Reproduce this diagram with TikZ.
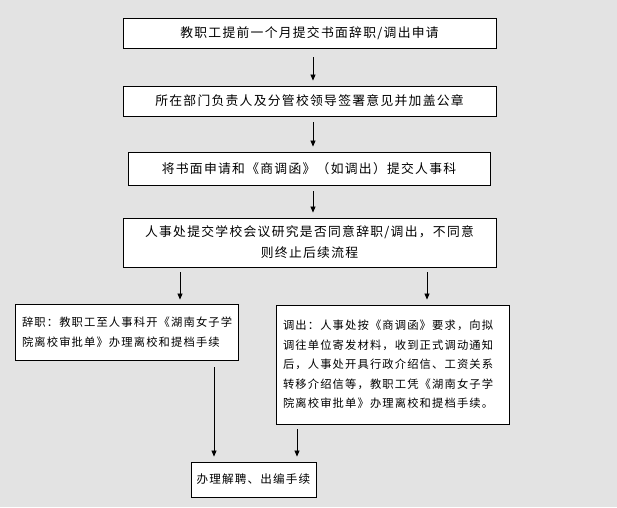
\documentclass[tikz,border=0pt]{standalone}
\usepackage{fontspec}
\setmainfont{Noto Sans CJK SC}[LetterSpace=10]
\usetikzlibrary{arrows.meta}
\begin{document}
\begin{tikzpicture}[x=1pt,y=-1pt,
  box/.style={draw=black,fill=white,line width=0.9pt,minimum height=30,inner sep=0pt,font=\fontsize{12.8}{19.5}\selectfont},
  tbox/.style={box,inner xsep=7pt,inner ysep=0pt,align=left,font=\fontsize{11.3}{19.5}\selectfont},
  arr/.style={-{Triangle[length=6pt,width=5pt]},line width=0.7pt}]
\fill[gray!22] (0,0) rectangle (617,507);
\node[box,minimum width=373] (b1) at (309.5,33) {教职工提前一个月提交书面辞职/调出申请};
\node[box,minimum width=373] (b2) at (309.5,101) {所在部门负责人及分管校领导签署意见并加盖公章};
\node[box,minimum width=362,minimum height=33] (b3) at (309,168.5) {将书面申请和《商调函》（如调出）提交人事科};
\node[box,minimum width=373,minimum height=49,align=center,font=\fontsize{12.8}{21}\selectfont] (b4) at (309.5,242.5) {人事处提交学校会议研究是否同意辞职/调出，不同意\\则终止后续流程};
\node[tbox,text width=209,minimum height=56] (b5) at (126.5,332) {辞职：教职工至人事科开《湖南女子学\\院离校审批单》办理离校和提档手续};
\node[tbox,text width=219,minimum height=119] (b6) at (392.5,364.5) {调出：人事处按《商调函》要求，向拟\\调往单位寄发材料，收到正式调动通知\\后，人事处开具行政介绍信、工资关系\\转移介绍信等，教职工凭《湖南女子学\\院离校审批单》办理离校和提档手续。};
\node[box,minimum width=125,minimum height=35,font=\fontsize{11.6}{19.5}\selectfont] (b7) at (253.5,479.5) {办理解聘、出编手续};
\draw[arr,shorten <=9pt,shorten >=5pt] (b1.south -| 313,0) -- (b2.north -| 313,0);
\draw[arr,shorten <=6pt,shorten >=5pt] (b2.south -| 313,0) -- (b3.north -| 313,0);
\draw[arr,shorten <=6pt,shorten >=5pt] (b3.south -| 313,0) -- (b4.north -| 313,0);
\draw[arr,shorten <=5pt,shorten >=4pt] (b4.south -| 180,0) -- (b5.north -| 180,0);
\draw[arr,shorten <=5pt,shorten >=5pt] (b4.south -| 427,0) -- (b6.north -| 427,0);
\draw[arr,shorten <=7pt,shorten >=5pt] (b5.south -| 214,0) -- (b7.north -| 214,0);
\draw[arr,shorten <=5pt,shorten >=5pt] (b6.south -| 297,0) -- (b7.north -| 297,0);
\end{tikzpicture}
\end{document}
